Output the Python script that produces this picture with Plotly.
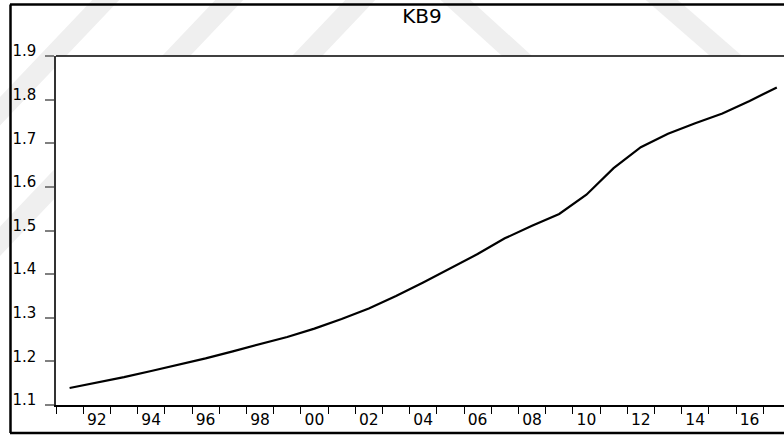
import plotly.graph_objects as go

# ---------------- data ----------------
years = list(range(1991, 2018))
kb9 = [1.139, 1.151, 1.164, 1.178, 1.192, 1.207, 1.223, 1.239, 1.256, 1.275,
       1.297, 1.321, 1.350, 1.381, 1.413, 1.446, 1.482, 1.511, 1.538, 1.582,
       1.643, 1.691, 1.722, 1.746, 1.768, 1.797, 1.828]

y_tick_values = [1.1, 1.2, 1.3, 1.4, 1.5, 1.6, 1.7, 1.8, 1.9]
y_tick_labels = ["1.1", "1.2", "1.3", "1.4", "1.5", "1.6", "1.7", "1.8", "1.9"]
x_label_years = list(range(1992, 2017, 2))
x_label_text = ["92", "94", "96", "98", "00", "02", "04", "06", "08", "10", "12", "14", "16"]
title_text = "KB9"

# ---------------- geometry helpers ----------------
W, H = 784, 435
ML, MR, MT, MB = 56, 0, 56, 30
PW, PH = W - ML - MR, H - MT - MB


def px(x):
    return (x - ML) / PW


def py(y):
    return (H - MB - y) / PH


def band(top_x0, top_x1, slope, y_top, y_bot):
    # parallelogram band (pixel coords) -> paper path
    pts = [(top_x0, y_top), (top_x1, y_top),
           (top_x1 + slope * (y_bot - y_top), y_bot),
           (top_x0 + slope * (y_bot - y_top), y_bot)]
    d = "M " + " L ".join(f"{px(a):.5f},{py(b):.5f}" for a, b in pts) + " Z"
    return dict(type="path", xref="paper", yref="paper", path=d,
                fillcolor="#efefef", line=dict(width=0), layer="below")


shapes = []
# faint watermark stripes
shapes.append(band(97, 124, -0.95, -5, 300))
shapes.append(band(220, 248, -0.95, -5, 300))
shapes.append(band(350, 380, -0.95, -5, 300))
shapes.append(band(435, 465, 1.1, -5, 70))
shapes.append(band(640, 672, 1.15, -5, 70))
# white plot area over the watermark
shapes.append(dict(type="rect", xref="paper", yref="paper", x0=0, x1=1, y0=0, y1=1,
                   fillcolor="white", line=dict(width=0), layer="below"))
# outer frame
fr = dict(color="black", width=2.5)
shapes.append(dict(type="line", xref="paper", yref="paper",
                   x0=px(10), x1=px(800), y0=py(4.5), y1=py(4.5), line=fr))
shapes.append(dict(type="line", xref="paper", yref="paper",
                   x0=px(10.5), x1=px(10.5), y0=py(4.5), y1=py(433), line=fr))
shapes.append(dict(type="line", xref="paper", yref="paper",
                   x0=px(10), x1=px(800), y0=py(433), y1=py(433), line=fr))
# top border of plot area
shapes.append(dict(type="line", xref="paper", yref="paper",
                   x0=0, x1=px(800), y0=1, y1=1, line=dict(color="black", width=1.5)))

fig = go.Figure()
fig.add_trace(go.Scatter(
    x=[y + 0.5 for y in years], y=kb9, mode="lines",
    line=dict(color="black", width=2.2), hoverinfo="skip", showlegend=False))

font_family = "DejaVu Sans, Arial, sans-serif"

fig.update_layout(
    width=W, height=H, autosize=False,
    margin=dict(l=ML, r=MR, t=MT, b=MB, pad=0),
    paper_bgcolor="white", plot_bgcolor="white",
    shapes=shapes,
    title=dict(text=title_text, x=px(422), xref="paper", xanchor="center",
               y=1 - 15.5 / H, yref="container", yanchor="middle",
               font=dict(family=font_family, size=20, color="black")),
    xaxis=dict(range=[1991, 1991 + (W - ML) / 27.2], showgrid=False, zeroline=False,
               showline=True, linecolor="black", linewidth=1.5,
               tickmode="array", tickvals=[y + 0.5 for y in x_label_years],
               ticktext=x_label_text, ticks="", ticklabelstandoff=0,
               tickfont=dict(family=font_family, size=15.5, color="black"),
               minor=dict(tickmode="array", tickvals=years, ticks="outside",
                          ticklen=7, tickcolor="black", tickwidth=1.3)),
    yaxis=dict(range=[1.1, 1.9], showgrid=False, zeroline=False,
               showline=True, linecolor="#333333", linewidth=1.5,
               tickmode="array", tickvals=y_tick_values, ticktext=y_tick_labels,
               ticks="outside", ticklen=9, tickcolor="#808080", tickwidth=1.5,
               ticklabelstandoff=6, ticklabelshift=-5,
               tickfont=dict(family=font_family, size=15, color="black")),
)

fig.write_html("out.html", config={"displayModeBar": False},
               post_script="document.body.style.margin='0px';")
